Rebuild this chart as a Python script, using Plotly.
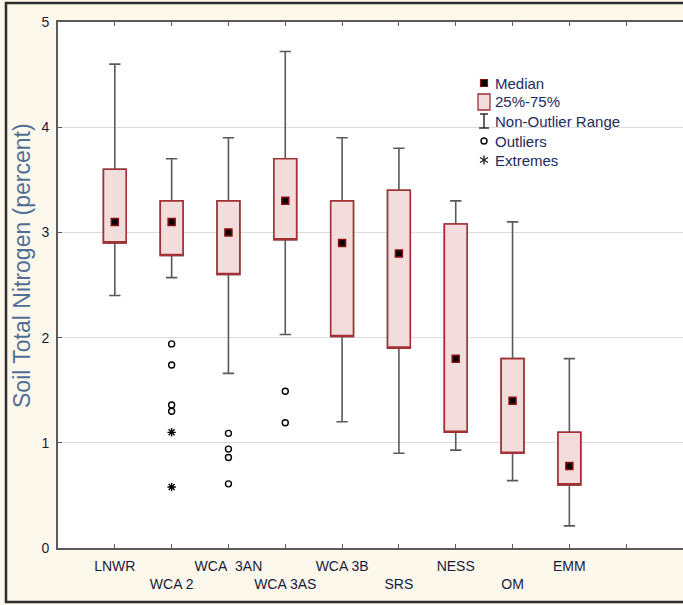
import plotly.graph_objects as go

# ---- data ----
categories = ["LNWR", "WCA 2", "WCA\u00a0 3AN", "WCA 3AS", "WCA 3B", "SRS", "NESS", "OM", "EMM"]
medians = [3.10, 3.10, 3.00, 3.30, 2.90, 2.80, 1.80, 1.40, 0.78]
q1_vals = [2.90, 2.78, 2.60, 2.93, 2.01, 1.90, 1.10, 0.90, 0.60]
q3_vals = [3.60, 3.30, 3.30, 3.70, 3.30, 3.40, 3.08, 1.80, 1.10]
whisker_low = [2.40, 2.57, 1.66, 2.03, 1.20, 0.90, 0.93, 0.64, 0.21]
whisker_high = [4.60, 3.70, 3.90, 4.72, 3.90, 3.80, 3.30, 3.10, 1.80]

outlier_cats = ["WCA 2", "WCA 2", "WCA 2", "WCA 2",
                "WCA\u00a0 3AN", "WCA\u00a0 3AN", "WCA\u00a0 3AN", "WCA\u00a0 3AN",
                "WCA 3AS", "WCA 3AS"]
outlier_vals = [1.94, 1.74, 1.36, 1.30, 1.09, 0.94, 0.86, 0.61, 1.49, 1.19]
extreme_cats = ["WCA 2", "WCA 2"]
extreme_vals = [1.10, 0.58]

y_ticks = [0, 1, 2, 3, 4, 5]
y_title = "Soil Total Nitrogen (percent)"
legend_labels = ["Median", "25%-75%", "Non-Outlier Range", "Outliers", "Extremes"]

# positions: categories at 1..N, plus one empty slot
pos = {c: i + 1 for i, c in enumerate(categories)}
xs = [pos[c] for c in categories]
tickvals = list(range(1, len(categories) + 2))
ticktext = [(c if i % 2 == 0 else "<br>" + c) for i, c in enumerate(categories)] + [""]

FONT = "Liberation Sans, Arial, sans-serif"
RED = "#a33034"
PINK = "#f2dcdc"
GRAY = "#5a5a5a"
W, H = 683, 605
ML, MR, MT, MB = 58, 0, 22, 57
PW, PH = W - ML - MR, H - MT - MB


def px(x):
    return (x - ML) / PW


def py(y):
    return (H - MB - y) / PH


fig = go.Figure()

# whiskers (non-outlier range)
fig.add_trace(go.Box(
    x=xs, q1=q1_vals, median=q1_vals, q3=q3_vals,
    lowerfence=whisker_low, upperfence=whisker_high,
    width=0.4, whiskerwidth=0.5,
    line=dict(color=GRAY, width=1.6), fillcolor="rgba(0,0,0,0)",
    boxpoints=False, showlegend=False, hoverinfo="skip",
))
# 25%-75% boxes
fig.add_trace(go.Box(
    x=xs, q1=q1_vals, median=q1_vals, q3=q3_vals,
    lowerfence=q1_vals, upperfence=q3_vals,
    width=0.4, whiskerwidth=0.0,
    line=dict(color=RED, width=1.6), fillcolor=PINK,
    boxpoints=False, showlegend=False,
))
# medians
fig.add_trace(go.Scatter(
    x=xs, y=medians, mode="markers", showlegend=False,
    marker=dict(symbol="square", size=7, color="black",
                line=dict(color="#8b1010", width=1.5)),
))
# outliers
fig.add_trace(go.Scatter(
    x=[pos[c] for c in outlier_cats], y=outlier_vals, mode="markers", showlegend=False,
    marker=dict(symbol="circle-open", size=6, color="black",
                line=dict(color="black", width=1.4)),
))
# extremes
fig.add_trace(go.Scatter(
    x=[pos[c] for c in extreme_cats], y=extreme_vals, mode="markers", showlegend=False,
    marker=dict(symbol="asterisk-open", size=7, color="black",
                line=dict(color="black", width=1.3)),
))

# ---- hand-drawn legend (symbols + labels) ----
rows = [83, 102, 121, 141, 160]
sx, tx = 484, 495
shapes = [dict(type="rect", xref="paper", yref="paper",
               x0=px(6), x1=1.2, y0=py(602), y1=py(3),
               line=dict(color="#2e2e2e", width=2.5), fillcolor="rgba(0,0,0,0)",
               layer="below")]
ln = dict(color="#222", width=1.4)
# median symbol
shapes.append(dict(type="rect", xref="paper", yref="paper",
                   x0=px(sx - 3.5), x1=px(sx + 3.5), y0=py(rows[0] + 3.5), y1=py(rows[0] - 3.5),
                   fillcolor="black", line=dict(color="#8b1010", width=1.2)))
# box symbol
shapes.append(dict(type="rect", xref="paper", yref="paper",
                   x0=px(sx - 6), x1=px(sx + 6), y0=py(rows[1] + 8), y1=py(rows[1] - 8),
                   fillcolor=PINK, line=dict(color=RED, width=1.3)))
# non-outlier range symbol (I-beam)
r = rows[2]
shapes += [
    dict(type="line", xref="paper", yref="paper", x0=px(sx), x1=px(sx), y0=py(r - 7), y1=py(r + 7), line=ln),
    dict(type="line", xref="paper", yref="paper", x0=px(sx - 4), x1=px(sx + 4), y0=py(r - 7), y1=py(r - 7), line=ln),
    dict(type="line", xref="paper", yref="paper", x0=px(sx - 5), x1=px(sx + 5), y0=py(r + 7), y1=py(r + 7), line=ln),
]
# outlier symbol
r = rows[3]
shapes.append(dict(type="circle", xref="paper", yref="paper",
                   x0=px(sx - 3), x1=px(sx + 3), y0=py(r + 3), y1=py(r - 3),
                   line=dict(color="black", width=1.4)))
# extremes symbol (asterisk)
r = rows[4]
shapes += [
    dict(type="line", xref="paper", yref="paper", x0=px(sx), x1=px(sx), y0=py(r - 4.5), y1=py(r + 4.5), line=ln),
    dict(type="line", xref="paper", yref="paper", x0=px(sx - 4), x1=px(sx + 4), y0=py(r - 2.5), y1=py(r + 2.5), line=ln),
    dict(type="line", xref="paper", yref="paper", x0=px(sx - 4), x1=px(sx + 4), y0=py(r + 2.5), y1=py(r - 2.5), line=ln),
]

annotations = [dict(text=y_title, xref="paper", yref="paper",
                    x=px(22), y=py(266), xanchor="center", yanchor="middle",
                    textangle=-90, showarrow=False,
                    font=dict(family=FONT, size=23, color="#4f6f96"))]
for lab, r in zip(legend_labels, rows):
    annotations.append(dict(text=lab, xref="paper", yref="paper",
                            x=px(tx - 2), y=py(r), xanchor="left", yanchor="middle",
                            showarrow=False,
                            font=dict(family=FONT, size=15, color="#1c2b5e")))

fig.update_layout(
    width=W, height=H,
    margin=dict(l=ML, r=MR, t=MT, b=MB),
    paper_bgcolor="#fdf8ec",
    plot_bgcolor="white",
    boxmode="overlay",
    font=dict(family=FONT, size=14, color="#1a1a3a"),
    showlegend=False,
    xaxis=dict(range=[0, 11], tickmode="array", tickvals=tickvals, ticktext=ticktext,
               tickangle=0, automargin=False, ticklabelstandoff=4,
               ticks="inside", ticklen=4, tickcolor=GRAY, tickwidth=1.2,
               showline=True, linecolor=GRAY, linewidth=1.6, mirror="ticks",
               showgrid=False, zeroline=False,
               tickfont=dict(family=FONT, size=14, color="#1a1a3a")),
    yaxis=dict(range=[0, 5], tickmode="array", tickvals=y_ticks, automargin=False,
               ticklabelstandoff=4,
               ticks="inside", ticklen=4, tickcolor=GRAY, tickwidth=1.2,
               showline=True, linecolor=GRAY, linewidth=1.6,
               showgrid=True, gridcolor="#dcdcdc", gridwidth=1, zeroline=False,
               tickfont=dict(family=FONT, size=14, color="#1a1a3a")),
    annotations=annotations,
    shapes=shapes,
)

fig.write_html("out.html", post_script="document.body.style.margin='0';",
               config={"displayModeBar": False})
